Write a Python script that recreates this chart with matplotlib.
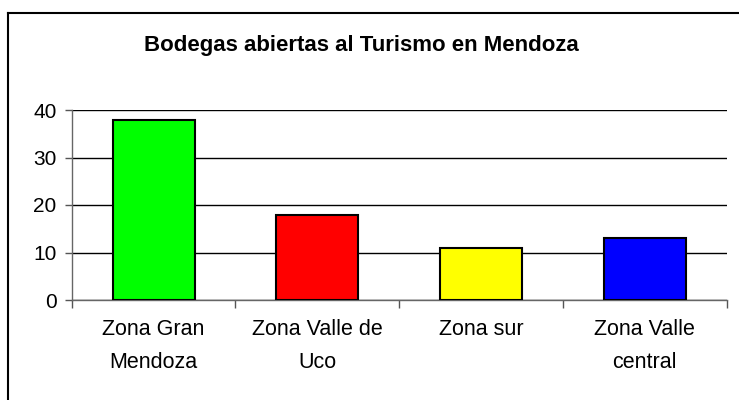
import matplotlib
matplotlib.use("Agg")
import matplotlib.pyplot as plt
from matplotlib.lines import Line2D
from matplotlib.ticker import FixedLocator, NullFormatter

categories = ["Zona Gran\nMendoza", "Zona Valle de\nUco", "Zona sur", "Zona Valle\ncentral"]
values = [38, 18, 11, 13]
colors = ["#00FF00", "#FF0000", "#FFFF00", "#0000FF"]
yticks = [0, 10, 20, 30, 40]
title = "Bodegas abiertas al Turismo en Mendoza"

plt.rcParams['font.family'] = ['Liberation Sans', 'DejaVu Sans']

fig = plt.figure(figsize=(7.39, 4.0), dpi=100)
ax = fig.add_axes([71.7/739, 1-300/400, (726.7-71.7)/739, 190/400])

x = list(range(len(categories)))
ax.bar(x, values, width=0.5, color=colors, edgecolor="black", linewidth=1.5, zorder=3)

ax.set_xlim(-0.5, len(categories) - 0.5)
ax.set_ylim(0, 40)
ax.set_yticks(yticks)
ax.yaxis.grid(True, color="black", linewidth=1.0, zorder=0)
ax.set_axisbelow(True)

ax.set_xticks(x)
ax.set_xticklabels(categories, fontsize=15.5, linespacing=1.7)
ax.tick_params(axis="x", which="major", length=0, pad=14)
ax.xaxis.set_minor_locator(FixedLocator([i - 0.5 for i in range(len(categories) + 1)]))
ax.xaxis.set_minor_formatter(NullFormatter())
ax.tick_params(axis="x", which="minor", length=6, width=1, color="#555555", direction="out")
ax.tick_params(axis="y", labelsize=15, length=5, width=1, color="#555555", pad=6)

for s in ["top", "right"]:
    ax.spines[s].set_visible(False)
for s in ["left", "bottom"]:
    ax.spines[s].set_color("#666666")
    ax.spines[s].set_linewidth(1.0)

fig.text(361/739, 1-46/400, title, ha="center", va="center", fontsize=16, fontweight="bold")

# outer chart border (top and left visible)
fig.add_artist(Line2D([7.5/739, 1.0], [1-12.5/400, 1-12.5/400], color="black", linewidth=1.5, transform=fig.transFigure))
fig.add_artist(Line2D([7.5/739, 7.5/739], [0.0, 1-12.5/400], color="black", linewidth=1.5, transform=fig.transFigure))

fig.savefig("out.png", dpi=100)
